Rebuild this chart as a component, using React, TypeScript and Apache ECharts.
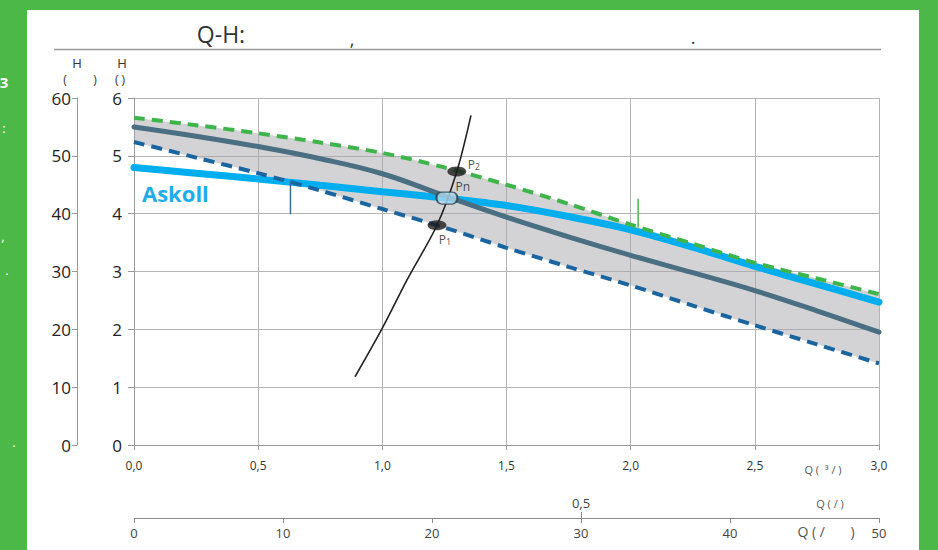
import React, { useEffect, useRef } from 'react';
import * as echarts from 'echarts';

// ---- data ----
const Q_M3H = [0, 0.25, 0.5, 0.75, 1, 1.25, 1.5, 1.75, 2, 2.25, 2.5, 2.75, 3];
const H_MAX = [5.66, 5.53, 5.39, 5.23, 5.05, 4.8, 4.5, 4.17, 3.81, 3.48, 3.15, 2.88, 2.61];
const H_MIN = [5.24, 4.97, 4.7, 4.4, 4.08, 3.76, 3.41, 3.08, 2.76, 2.41, 2.07, 1.74, 1.41];
const H_NOM = [5.5, 5.34, 5.16, 4.95, 4.69, 4.31, 3.94, 3.6, 3.28, 2.98, 2.67, 2.32, 1.95];
const H_ASKOLL = [4.8, 4.7, 4.6, 4.49, 4.38, 4.27, 4.14, 3.95, 3.72, 3.42, 3.09, 2.78, 2.47];

const SYS_Q = [0.89, 1.0, 1.1, 1.22, 1.3, 1.357];
const SYS_H = [1.18, 2.02, 2.86, 3.8, 4.73, 5.7];

const POINT_NAMES = ['P1', 'Pn', 'P2'];
const POINT_Q = [1.22, 1.26, 1.3];
const POINT_H = [3.8, 4.27, 4.73];

const ASKOLL_TICK_Q = [0.63, 0.63];
const ASKOLL_TICK_H = [4.57, 3.99];
const MAX_TICK_Q = [2.03, 2.03];
const MAX_TICK_H = [4.26, 3.76];

const X_MAIN = { min: 0, max: 3, interval: 0.5 };
const X_LMIN = { min: 0, max: 50, interval: 10 };
const X_LS_TICKS = [0.5];
const Y_M = { min: 0, max: 6, interval: 1 };
const Y_KPA = { min: 0, max: 60, interval: 10 };

const FONT = '"Open Sans", "Noto Sans", sans-serif';
const GRID_COLOR = '#b4b4b4';
const AXIS_COLOR = '#9a9a9a';
const SMOOTH = 0.3;

const pairs = (xs: number[], ys: number[]) => xs.map((x, i) => [x, ys[i]]);
const comma = (v: number) => v.toFixed(1).replace('.', ',');

// same control-point rule as the line series' smoothing, for the band outline
function smoothSegs(pts: number[][], smooth: number, start: boolean) {
  let d = start ? `M${pts[0][0]},${pts[0][1]}` : `L${pts[0][0]},${pts[0][1]}`;
  const cps: number[][][] = pts.map((p, i) => {
    const prev = pts[i - 1] || p;
    const next = pts[i + 1] || p;
    const vx = next[0] - prev[0];
    const vy = next[1] - prev[1];
    const d0 = Math.hypot(p[0] - prev[0], p[1] - prev[1]);
    const d1 = Math.hypot(next[0] - p[0], next[1] - p[1]);
    const r = d0 + d1 === 0 ? 0 : d1 / (d0 + d1);
    const cin = [p[0] - vx * smooth * (1 - r), p[1] - vy * smooth * (1 - r)];
    const cout = [p[0] + vx * smooth * r, p[1] + vy * smooth * r];
    return [cin, cout];
  });
  for (let i = 1; i < pts.length; i++) {
    const c0 = i - 1 === 0 ? pts[0] : cps[i - 1][1];
    const c1 = i === pts.length - 1 ? pts[i] : cps[i][0];
    d += ` C${c0[0]},${c0[1]} ${c1[0]},${c1[1]} ${pts[i][0]},${pts[i][1]}`;
  }
  return d;
}

export default function App() {
  const ref = useRef<HTMLDivElement>(null);

  useEffect(() => {
    if (!ref.current) return;
    const chart = echarts.init(ref.current, null, { renderer: 'svg' });

    const pointLabels: Record<string, any> = {
      P1: { offset: [8, 14], formatter: '{p|P}{s|1}' },
      Pn: { offset: [16, -12], formatter: '{p|Pn}' },
      P2: { offset: [17, -7], formatter: '{p|P}{s|2}' },
    };

    const txt = (text: string, x: number, y: number, fontSize: number, fill: string, align = 'center', extra: any = {}) => ({
      type: 'text',
      x,
      y,
      silent: true,
      style: { text, fontSize, fill, fontFamily: FONT, align, verticalAlign: 'middle', ...extra },
    });

    chart.setOption({
      animation: false,
      grid: { left: 134, right: 59, top: 98, bottom: 105, containLabel: false, outerBoundsMode: 'none' },
      xAxis: [
        {
          type: 'value',
          ...X_MAIN,
          position: 'bottom',
          axisLine: { show: true, onZero: false, lineStyle: { color: AXIS_COLOR, width: 1 } },
          axisTick: { show: true, length: 5, lineStyle: { color: AXIS_COLOR } },
          axisLabel: { formatter: comma, fontSize: 12, color: '#333', margin: 14, fontFamily: FONT },
          splitLine: { show: true, lineStyle: { color: GRID_COLOR, width: 1 } },
        },
        {
          type: 'value',
          ...X_LMIN,
          position: 'bottom',
          offset: 73,
          axisLine: { show: true, onZero: false, lineStyle: { color: '#8a8a8a', width: 1 } },
          axisTick: { show: true, length: 5, lineStyle: { color: '#8a8a8a' } },
          axisLabel: { fontSize: 13, color: '#444', margin: 8, fontFamily: FONT },
          splitLine: { show: false },
        },
        {
          type: 'value',
          min: 0,
          max: 50 / 60,
          position: 'bottom',
          offset: 73,
          axisLine: { show: false, onZero: false },
          axisTick: { show: true, inside: true, length: 6, customValues: X_LS_TICKS, lineStyle: { color: '#8a8a8a' } },
          axisLabel: {
            show: true,
            inside: true,
            customValues: X_LS_TICKS,
            formatter: comma,
            fontSize: 13,
            color: '#444',
            margin: 9,
            fontFamily: FONT,
          },
          splitLine: { show: false },
        },
      ],
      yAxis: [
        {
          type: 'value',
          ...Y_M,
          position: 'left',
          axisLine: { show: true, onZero: false, lineStyle: { color: AXIS_COLOR, width: 1 } },
          axisTick: { show: true, length: 6, lineStyle: { color: AXIS_COLOR } },
          axisLabel: { fontSize: 17, color: '#222', margin: 12, fontFamily: FONT },
          splitLine: { show: true, lineStyle: { color: GRID_COLOR, width: 1 } },
        },
        {
          type: 'value',
          ...Y_KPA,
          position: 'left',
          offset: 57,
          axisLine: { show: true, onZero: false, lineStyle: { color: AXIS_COLOR, width: 1 } },
          axisTick: { show: true, length: 5, lineStyle: { color: AXIS_COLOR } },
          axisLabel: { fontSize: 17, color: '#222', margin: 6, fontFamily: FONT },
          splitLine: { show: false },
        },
      ],
      series: [
        {
          type: 'custom',
          name: 'band',
          silent: true,
          data: [0],
          renderItem: (_p: any, api: any) => {
            const upper = Q_M3H.map((q, i) => api.coord([q, H_MAX[i]]));
            const lower = Q_M3H.map((q, i) => api.coord([q, H_MIN[i]])).reverse();
            const d = smoothSegs(upper, SMOOTH, true) + ' ' + smoothSegs(lower, SMOOTH, false) + ' Z';
            return {
              type: 'path',
              shape: { pathData: d },
              style: { fill: '#a7a8ab', opacity: 0.5, stroke: null },
            };
          },
        },
        {
          type: 'line',
          name: 'Askoll',
          data: pairs(Q_M3H, H_ASKOLL),
          smooth: SMOOTH,
          symbol: 'none',
          lineStyle: { color: '#00aeef', width: 7, cap: 'round' },
        },
        {
          type: 'line',
          name: 'nominal',
          data: pairs(Q_M3H, H_NOM),
          smooth: 0.4,
          symbol: 'none',
          lineStyle: { color: '#4a6e82', width: 5, cap: 'round' },
        },
        {
          type: 'line',
          name: 'min',
          data: pairs(Q_M3H, H_MIN),
          smooth: SMOOTH,
          symbol: 'none',
          lineStyle: { color: '#1a64a0', width: 4, type: [11, 7] },
        },
        {
          type: 'line',
          name: 'max',
          data: pairs(Q_M3H, H_MAX),
          smooth: SMOOTH,
          symbol: 'none',
          lineStyle: { color: '#3db54a', width: 4, type: [11, 7] },
        },
        {
          type: 'line',
          name: 'system',
          data: pairs(SYS_Q, SYS_H),
          smooth: 0.3,
          symbol: 'none',
          lineStyle: { color: '#222', width: 1.6 },
        },
        {
          type: 'line',
          name: 'askollTick',
          data: pairs(ASKOLL_TICK_Q, ASKOLL_TICK_H),
          symbol: 'none',
          lineStyle: { color: '#3a6d8f', width: 1.5 },
        },
        {
          type: 'line',
          name: 'maxTick',
          data: pairs(MAX_TICK_Q, MAX_TICK_H),
          symbol: 'none',
          lineStyle: { color: '#4cb848', width: 1.5 },
        },
        {
          type: 'scatter',
          name: 'points',
          z: 6,
          data: POINT_NAMES.map((n, i) => {
            const isN = n === 'Pn';
            return {
              value: [POINT_Q[i], POINT_H[i]],
              symbol: isN ? 'path://M5,0 H15 A5,5 0 0 1 15,10 H5 A5,5 0 0 1 5,0 Z' : 'circle',
              symbolSize: isN ? [21, 12] : [19, 10],
              itemStyle: isN
                ? { color: '#aed9f0', borderColor: '#2a3a44', borderWidth: 1.6 }
                : { color: '#1b1b1b' },
              label: {
                show: true,
                position: 'inside',
                offset: pointLabels[n].offset,
                formatter: pointLabels[n].formatter,
                rich: {
                  p: { fontSize: 12, color: '#222', fontFamily: FONT, verticalAlign: 'bottom' },
                  s: { fontSize: 9, color: '#222', fontFamily: FONT, verticalAlign: 'bottom', padding: [0, 0, -1, 0] },
                },
              },
            };
          }),
        },
      ],
      graphic: [
        txt('Q-H:', 221, 34, 23, '#333'),
        txt(',', 352, 39, 18, '#333'),
        txt('.', 693, 37, 18, '#333'),
        {
          type: 'line',
          silent: true,
          shape: { x1: 54, y1: 49.5, x2: 881, y2: 49.5 },
          style: { stroke: '#9a9a9a', lineWidth: 1.5 },
        },
        txt('H', 77, 63, 13, '#333'),
        txt('(', 65, 79, 12, '#333'),
        txt(')', 95, 79, 12, '#333'),
        txt('H', 122, 63, 13, '#333'),
        txt('( )', 120, 79, 12, '#333'),
        txt('Askoll', 142, 193, 22, '#1cadeb', 'left', { fontWeight: 'bold', letterSpacing: -0.5 }),
        txt('Q (  ³ / )', 823, 469, 11, '#555'),
        txt('Q ( / )', 830, 503, 11, '#555'),
        txt('Q ( /       )', 826, 531, 14, '#555'),
        txt('3', 4, 82, 15, '#ffffff', 'center', { fontWeight: 'bold' }),
        txt(':', 4, 128, 13, '#ffffff'),
        txt(',', 3, 236, 13, '#ffffff'),
        txt('.', 7, 270, 13, '#ffffff'),
        txt('.', 14, 442, 13, '#ffffff'),
      ],
    });

    return () => chart.dispose();
  }, []);

  return (
    <div style={{ position: 'absolute', left: 0, top: 0, width: 938, height: 550, background: '#4cb848', overflow: 'hidden' }}>
      <div style={{ position: 'absolute', left: 27, top: 10, width: 892, height: 540, background: '#ffffff' }} />
      <div ref={ref} style={{ position: 'absolute', left: 0, top: 0, width: 938, height: 550 }} />
    </div>
  );
}
